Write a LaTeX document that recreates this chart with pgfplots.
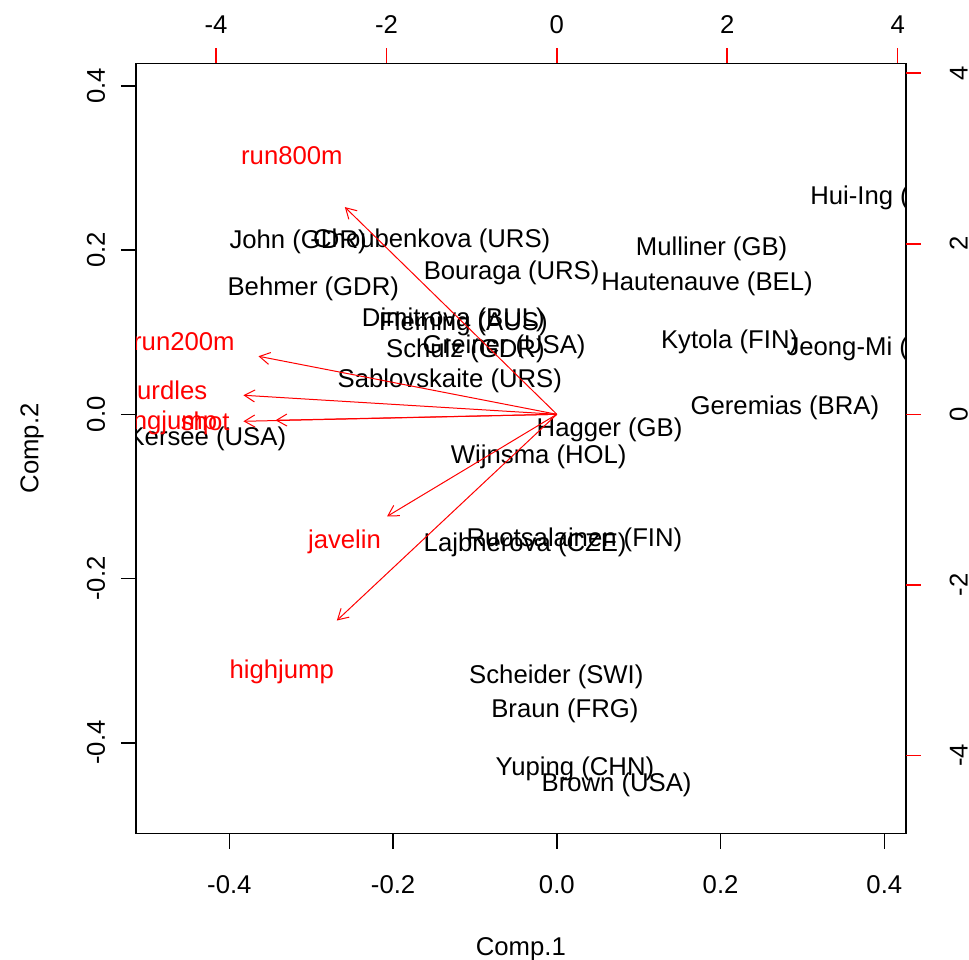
\documentclass[border=0pt]{standalone}
\usepackage{pgfplots}
\pgfplotsset{compat=1.18}
\usepackage{pgfplotstable}
\usepackage{fontspec}
\setmainfont{Liberation Sans}
\usetikzlibrary{arrows.meta}
\newcommand\fs{\fontsize{12.85pt}{15pt}\selectfont}

\pgfplotstableread[col sep=comma]{
x,y,label
0.3982,0.2634,Hui-Ing (TAI)
-0.3160,0.2098,John (GDR)
-0.1528,0.2110,Choubenkova (URS)
-0.2975,0.1524,Behmer (GDR)
0.1890,0.2012,Mulliner (GB)
-0.0552,0.1720,Bouraga (URS)
0.1834,0.1585,Hautenauve (BEL)
-0.1264,0.1146,Dimitrova (BUL)
-0.1141,0.1098,Fleming (AUS)
-0.0644,0.0817,Greiner (USA)
-0.1117,0.0768,Schulz (GDR)
0.2110,0.0878,Kytola (FIN)
0.3939,0.0793,Jeong-Mi (KOR)
-0.1307,0.0402,Sablovskaite (URS)
0.2785,0.0073,Geremias (BRA)
-0.4798,-0.0305,Joyner-Kersee (USA)
0.0644,-0.0195,Hagger (GB)
-0.0221,-0.0524,Wijnsma (HOL)
0.0215,-0.1524,Ruotsalainen (FIN)
-0.0387,-0.1585,Lajbnerova (CZE)
-0.0006,-0.3195,Scheider (SWI)
0.0098,-0.3610,Braun (FRG)
0.0221,-0.4317,Yuping (CHN)
0.0730,-0.4512,Brown (USA)
}\athletes

\pgfplotstableread[col sep=comma]{
x,y,label
-0.3236,0.3155,run800m
-0.4555,0.0884,run200m
-0.4785,0.0290,hurdles
-0.4785,-0.0106,longjump
-0.4295,-0.0091,shot
-0.2593,-0.1555,javelin
-0.3359,-0.3140,highjump
}\varlabels

\tikzset{rarrow/.style={red, line width=0.5pt, -{Straight Barb[length=5.2pt,width=6pt]}}}

\begin{document}
\begin{tikzpicture}
\useasboundingbox (-68pt,-62.75pt) rectangle (416.5pt,416.75pt);
\begin{axis}[
  scale only axis, width=384.85pt, height=385pt,
  xmin=-0.514, xmax=0.4261, ymin=-0.5106, ymax=0.4273,
  axis line style={black, line width=0.8pt},
  tick style={black, line width=0.8pt},
  tick align=outside, major tick length=7.5pt,
  xtick pos=left, ytick pos=left,
  xtick={-0.4,-0.2,0,0.2,0.4}, xticklabels={-0.4,-0.2,0.0,0.2,0.4},
  ytick={-0.4,-0.2,0,0.2,0.4}, yticklabels={-0.4,-0.2,0.0,0.2,0.4},
  tick label style={font=\fs},
  xticklabel style={anchor=center, yshift=-18.25pt},
  yticklabel style={xshift=-12.5pt, rotate=90, anchor=center},
  xlabel={Comp.1}, ylabel={Comp.2},
  label style={font=\fs},
  xlabel style={at={(axis description cs:0.5,-0.15)}, anchor=center},
  ylabel style={at={(axis description cs:-0.1351,0.5)}, anchor=center, rotate=0},
  clip marker paths=true,
]
\addplot[only marks, mark=*, mark size=0pt, mark options={draw=none,fill=none},
  nodes near coords, point meta=explicit symbolic,
  every node near coord/.append style={anchor=center, inner sep=0pt, font=\fs, text=black}]
  table[x=x, y=y, meta=label] {\athletes};
\addplot[rarrow] coordinates {(0,0) (-0.2589,0.2524)};
\addplot[rarrow] coordinates {(0,0) (-0.3644,0.0707)};
\addplot[rarrow] coordinates {(0,0) (-0.3828,0.0232)};
\addplot[rarrow] coordinates {(0,0) (-0.3828,-0.0085)};
\addplot[rarrow] coordinates {(0,0) (-0.3436,-0.0073)};
\addplot[rarrow] coordinates {(0,0) (-0.2074,-0.1244)};
\addplot[rarrow] coordinates {(0,0) (-0.2687,-0.2512)};
\addplot[only marks, mark=*, mark size=0pt, mark options={draw=none,fill=none},
  nodes near coords, point meta=explicit symbolic,
  every node near coord/.append style={anchor=center, inner sep=0pt, font=\fs, text=red}]
  table[x=x, y=y, meta=label] {\varlabels};
\end{axis}
\begin{axis}[
  scale only axis, width=384.85pt, height=385pt,
  xmin=-4.940, xmax=4.094, ymin=-4.917, ymax=4.115,
  axis x line*=top, axis y line*=right,
  axis line style={draw=none},
  every tick/.style={red, line width=0.8pt},
  major tick style={red, line width=0.8pt},
  tick align=outside, major tick length=7.5pt,
  xtick={4,2,0,-2,-4}, xticklabels={4,2,0,-2,-4},
  ytick={4,2,0,-2,-4}, yticklabels={4,2,0,-2,-4},
  tick label style={font=\fs, text=black},
  xticklabel style={anchor=center, yshift=11.75pt},
  yticklabel style={xshift=19pt, rotate=90, anchor=center},
]
\end{axis}
\end{tikzpicture}
\end{document}
